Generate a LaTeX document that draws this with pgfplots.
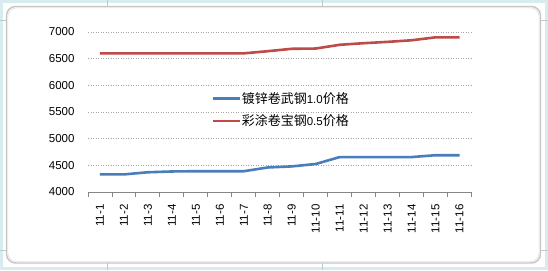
\documentclass[border=0pt]{standalone}
\usepackage{pgfplots}
\pgfplotsset{compat=1.18}
\usepackage{fontspec}
\setmainfont{Liberation Sans}
\newfontfamily\cjk{Noto Sans CJK SC}
\definecolor{sblue}{HTML}{4A7EBB}
\definecolor{sred}{HTML}{BE4B48}
\definecolor{framec}{HTML}{D6ECEF}
\definecolor{gridc}{HTML}{A6A6A6}
\definecolor{axisc}{HTML}{868686}
\begin{document}
\begin{tikzpicture}[x=1bp,y=1bp]
\path[use as bounding box] (0,0) rectangle (548,270);
\fill[framec] (0,0) rectangle (548,270);
\fill[white] (3,3) rectangle (545,267);
\draw[framec!70!gray, line width=0.6bp] (107,0) -- (107,7) (107,263) -- (107,270) (322,263)--(322,270) (322,0)--(322,7) (0,20)--(6,20) (0,250)--(6,250) (541,20)--(548,20) (541,250)--(548,250);
\draw[gray!45, line width=1.4bp, rounded corners=9bp] (6.5,7) rectangle (540.5,263.5);
\draw[gray!20, line width=0.8bp, rounded corners=9bp] (7.8,8.3) rectangle (539.2,262.2);
\begin{axis}[
  at={(88bp,78bp)}, anchor=south west,
  scale only axis, width=383.5bp, height=160bp,
  xmin=0.5, xmax=16.5, ymin=4000, ymax=7000,
  xtick={1,...,16},
  xticklabels={11-1,11-2,11-3,11-4,11-5,11-6,11-7,11-8,11-9,11-10,11-11,11-12,11-13,11-14,11-15,11-16},
  minor xtick={0.5,1.5,...,16.5},
  ytick={4000,4500,...,7000},
  major tick length=0pt, minor tick length=5bp,
  tick align=outside, tick pos=bottom,
  minor tick style={axisc, line width=0.9bp},
  axis x line*=bottom, axis y line*=left,
  x axis line style={axisc, line width=1bp},
  y axis line style={draw=none},
  ymajorgrids, grid style={gridc, line width=0.7bp, dash pattern=on 1bp off 1.5bp},
  /pgf/number format/assume math mode=true,
  yticklabel style={font=\fontsize{11.5bp}{13bp}\selectfont, xshift=-10bp},
  xticklabel style={font=\fontsize{11.5bp}{13bp}\selectfont, yshift=-9bp, rotate=90, anchor=east},
  scaled y ticks=false,
  yticklabel={\pgfmathprintnumber[fixed,1000 sep={}]{\tick}},
  legend style={at={(0.322,0.514)}, anchor=west, draw=none, fill=none, inner sep=0pt,
    nodes={inner sep=0.5bp}, row sep=9bp,
    font=\fontsize{11.5bp}{13bp}\selectfont},
  legend cell align=left,
  legend image code/.code={\draw[#1, line width=2.6bp] (0bp,0bp) -- (27bp,0bp);},
]
\addplot[sblue, line width=2.6bp, no markers] coordinates {
(1,4330) (2,4330) (3,4370) (4,4385) (5,4390) (6,4390) (7,4390) (8,4460)
(9,4480) (10,4525) (11,4655) (12,4655) (13,4655) (14,4655) (15,4690) (16,4690)};
\addlegendentry{{\cjk\fontsize{13bp}{14bp}\selectfont 镀锌卷武钢}1.0{\cjk\fontsize{13bp}{14bp}\selectfont 价格}}
\addplot[sred, line width=2.6bp, no markers] coordinates {
(1,6600) (2,6600) (3,6600) (4,6600) (5,6600) (6,6600) (7,6600) (8,6640)
(9,6685) (10,6690) (11,6760) (12,6790) (13,6815) (14,6845) (15,6900) (16,6900)};
\addlegendentry{{\cjk\fontsize{13bp}{14bp}\selectfont 彩涂卷宝钢}0.5{\cjk\fontsize{13bp}{14bp}\selectfont 价格}}
\end{axis}
\end{tikzpicture}
\end{document}
